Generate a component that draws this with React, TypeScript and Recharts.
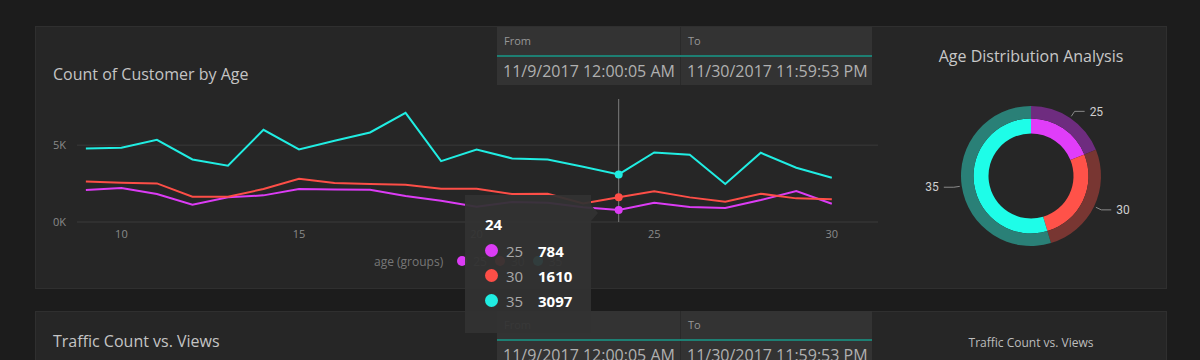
import React from 'react'
import { LineChart, Line, XAxis, YAxis, CartesianGrid, Tooltip, PieChart, Pie, Cell } from 'recharts'

// day of month (Nov 2017)
const days = [9, 10, 11, 12, 13, 14, 15, 16, 17, 18, 19, 20, 21, 22, 23, 24, 25, 26, 27, 28, 29, 30]
const age25 = [2078, 2208, 1818, 1126, 1602, 1732, 2143, 2120, 2100, 1688, 1385, 996, 1299, 1255, 952, 784, 1255, 974, 909, 1429, 2013, 1190]
const age30 = [2641, 2554, 2511, 1645, 1645, 2143, 2814, 2532, 2468, 2424, 2165, 2165, 1818, 1840, 1212, 1610, 1991, 1602, 1320, 1840, 1537, 1472]
const age35 = [4786, 4827, 5346, 4069, 3658, 5996, 4719, 5281, 5823, 7100, 3961, 4719, 4136, 4070, 3593, 3097, 4524, 4373, 2468, 4502, 3528, 2879]

const ageGroups = ['25', '30', '35']
const ageShare = [18.9, 26.5, 54.6]

const xTicks = [10, 15, 20, 25, 30]
const yTicks = [0, 5000]

const dateFrom = '11/9/2017 12:00:05 AM'
const dateTo = '11/30/2017 11:59:53 PM'

const FONT = '"Open Sans", "Segoe UI", sans-serif'
const LINE_COLORS = ['#dc3cf5', '#fd4e47', '#20ede2']
const RING_COLORS = ['#e03df9', '#ff5249', '#1efde8']
const RING_DIM = ['#6e2c7f', '#783632', '#2a8077']

const lineData = days.map((d, i) => ({ day: d, a25: age25[i], a30: age30[i], a35: age35[i] }))
const pieData = ageGroups.map((g, i) => ({ name: g, value: ageShare[i] }))

const RADIAN = Math.PI / 180

function fmtK(v: number) {
  return `${Math.round(v / 1000)}K`
}

function TipBox({ active, payload, label }: any) {
  if (!active || !payload || !payload.length) return null
  return (
    <div
      style={{
        position: 'relative',
        width: 126,
        height: 138,
        background: 'rgba(50,50,50,0.94)',
        fontFamily: FONT,
        boxSizing: 'border-box',
        padding: '18px 0 0 20px',
      }}
    >
      <div style={{ position: 'absolute', right: -7, top: 10, width: 0, height: 0, borderTop: '8px solid transparent', borderBottom: '8px solid transparent', borderLeft: '7px solid rgba(50,50,50,0.94)' }} />
      <div style={{ color: '#fff', fontWeight: 700, fontSize: 15, lineHeight: '22px', marginBottom: 3 }}>{label}</div>
      {payload.map((p: any, i: number) => (
        <div key={p.dataKey} style={{ display: 'flex', alignItems: 'center', height: 25 }}>
          <span style={{ width: 13, height: 13, borderRadius: '50%', background: LINE_COLORS[i], display: 'inline-block' }} />
          <span style={{ color: '#a8a8a8', fontSize: 15, marginLeft: 8, width: 32 }}>{p.name}</span>
          <span style={{ color: '#fff', fontSize: 15, fontWeight: 700 }}>{p.value}</span>
        </div>
      ))}
    </div>
  )
}

function ringLabel(props: any) {
  const { cx, cy, midAngle, outerRadius, index } = props
  const cos = Math.cos(-midAngle * RADIAN)
  const sin = Math.sin(-midAngle * RADIAN)
  const sx = cx + (outerRadius + 2) * cos
  const sy = cy + (outerRadius + 2) * sin
  const ex = cx + (outerRadius + 8) * cos
  const ey = cy + (outerRadius + 8) * sin
  const right = cos >= 0
  const hx = ex + (right ? 10 : -10)
  return (
    <g key={`lbl-${index}`}>
      <polyline points={`${sx},${sy} ${ex},${ey} ${hx},${ey}`} fill="none" stroke="#8a8a8a" strokeWidth={1} />
      <text x={hx + (right ? 5 : -5)} y={ey} dy="0.35em" textAnchor={right ? 'start' : 'end'} fill="#cfcfcf" fontSize={12} fontFamily="Roboto, sans-serif">
        {ageGroups[index]}
      </text>
    </g>
  )
}

function DateBox({ top }: { top: number }) {
  const head = { position: 'absolute' as const, top: 0, height: 28, lineHeight: '27px', fontSize: 11, color: '#979797', paddingLeft: 7, boxSizing: 'border-box' as const }
  const val = { position: 'absolute' as const, top: 30, height: 28, lineHeight: '28px', fontSize: 16, color: '#b0b0b0', paddingLeft: 6, boxSizing: 'border-box' as const, whiteSpace: 'nowrap' as const }
  return (
    <div style={{ position: 'absolute', left: 497, top, width: 375, height: 58, background: '#333333', fontFamily: FONT, zIndex: 2 }}>
      <div style={{ ...head, left: 0, width: 184 }}>From</div>
      <div style={{ ...head, left: 184, width: 191 }}>To</div>
      <div style={{ position: 'absolute', left: 183, top: 0, width: 1, height: 58, background: '#2a2a2a' }} />
      <div style={{ position: 'absolute', left: 0, top: 28, width: 375, height: 2, background: '#1d7f73' }} />
      <div style={{ ...val, left: 0, width: 184 }}>{dateFrom}</div>
      <div style={{ ...val, left: 184, width: 191 }}>{dateTo}</div>
    </div>
  )
}

export default function App() {
  return (
    <div style={{ position: 'relative', width: 1200, height: 360, background: '#1c1c1c', overflow: 'hidden', fontFamily: FONT }}>
      <style>{'body{margin:0;background:#1c1c1c}'}</style>

      {/* top panel */}
      <div style={{ position: 'absolute', left: 35, top: 26, width: 1132, height: 263, background: '#262626', border: '1px solid #2f2f2f', boxSizing: 'border-box' }} />
      <div style={{ position: 'absolute', left: 53, top: 63, fontSize: 16, color: '#c4c4c4', whiteSpace: 'nowrap' }}>Count of Customer by Age</div>
      <DateBox top={27} />
      <div style={{ position: 'absolute', left: 900, top: 45, width: 262, textAlign: 'center', fontSize: 16, color: '#c8c8c8' }}>Age Distribution Analysis</div>

      {/* legend */}
      <div style={{ position: 'absolute', left: 374, top: 252, display: 'flex', alignItems: 'center', fontSize: 12, color: '#777', height: 18 }}>
        <span style={{ marginRight: 14 }}>age (groups)</span>
        {ageGroups.map((g, i) => (
          <span key={g} style={{ display: 'flex', alignItems: 'center', marginRight: 8 }}>
            <span style={{ width: 10, height: 10, borderRadius: '50%', background: LINE_COLORS[i], display: 'inline-block', marginRight: 6 }} />
            <span>{g}</span>
          </span>
        ))}
      </div>

      <div style={{ position: 'absolute', left: 0, top: 0, zIndex: 5 }}>
        <LineChart width={900} height={300} data={lineData} margin={{ top: 99, right: 22, bottom: 48, left: 47 }}>
          <CartesianGrid horizontal vertical={false} horizontalValues={yTicks} stroke="#3a3a3a" />
          <XAxis
            dataKey="day"
            type="number"
            domain={[8.75, 31.3]}
            ticks={xTicks}
            axisLine={false}
            tickLine={false}
            tick={{ fontSize: 11, fill: '#8a8a8a', fontFamily: FONT }}
            height={30}
            allowDataOverflow
          />
          <YAxis
            domain={[0, 8000]}
            ticks={yTicks}
            tickFormatter={fmtK}
            axisLine={false}
            tickLine={false}
            tickMargin={5}
            width={30}
            tick={{ fontSize: 11, fill: '#8a8a8a', fontFamily: FONT }}
          />
          <Tooltip
            active
            defaultIndex={15}
            position={{ x: 465, y: 195 }}
            content={<TipBox />}
            cursor={{ stroke: '#7d7d7d', strokeWidth: 1 }}
            isAnimationActive={false}
            wrapperStyle={{ zIndex: 20, outline: 'none' }}
          />
          <Line dataKey="a25" name="25" stroke={LINE_COLORS[0]} strokeWidth={2} dot={false} activeDot={{ r: 4, fill: LINE_COLORS[0], strokeWidth: 0 }} isAnimationActive={false} />
          <Line dataKey="a30" name="30" stroke={LINE_COLORS[1]} strokeWidth={2} dot={false} activeDot={{ r: 4, fill: LINE_COLORS[1], strokeWidth: 0 }} isAnimationActive={false} />
          <Line dataKey="a35" name="35" stroke={LINE_COLORS[2]} strokeWidth={2} dot={false} activeDot={{ r: 4, fill: LINE_COLORS[2], strokeWidth: 0 }} isAnimationActive={false} />
        </LineChart>
      </div>

      <div style={{ position: 'absolute', left: 890, top: 26, zIndex: 3 }}>
        <PieChart width={276} height={262}>
          <Pie data={pieData} dataKey="value" cx={136} cy={145} innerRadius={42.5} outerRadius={57.5} startAngle={90} endAngle={-270} stroke="none" isAnimationActive={false}>
            {pieData.map((d, i) => <Cell key={d.name} fill={RING_COLORS[i]} />)}
          </Pie>
          <Pie data={pieData} dataKey="value" cx={136} cy={145} innerRadius={57.5} outerRadius={70} startAngle={90} endAngle={-270} stroke="none" label={ringLabel} labelLine={false} isAnimationActive={false}>
            {pieData.map((d, i) => <Cell key={d.name} fill={RING_DIM[i]} />)}
          </Pie>
        </PieChart>
      </div>

      {/* bottom panel */}
      <div style={{ position: 'absolute', left: 35, top: 311, width: 1132, height: 80, background: '#262626', border: '1px solid #2f2f2f', boxSizing: 'border-box', zIndex: 1 }} />
      <div style={{ position: 'absolute', left: 53, top: 330, fontSize: 16, color: '#c4c4c4', whiteSpace: 'nowrap', zIndex: 2 }}>Traffic Count vs. Views</div>
      <DateBox top={311} />
      <div style={{ position: 'absolute', left: 900, top: 334, width: 262, textAlign: 'center', fontSize: 12, color: '#bdbdbd', zIndex: 2 }}>Traffic Count vs. Views</div>
    </div>
  )
}
